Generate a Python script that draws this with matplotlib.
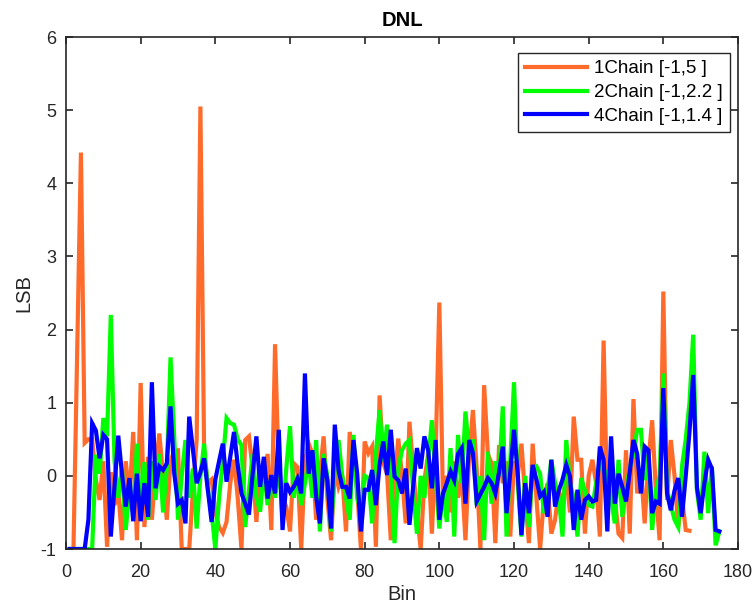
import matplotlib
matplotlib.use("Agg")
import matplotlib.pyplot as plt
import numpy as np

plt.rcParams['font.family'] = ['Liberation Sans', 'DejaVu Sans']
plt.rcParams['axes.unicode_minus'] = False

# ---- data ----
chain1 = [-1, -1, 1.7, 4.42, 0.45, 0.50, 0.50, -0.05, -0.33, 0.2,
          -0.97, 0.05, -0.4, -0.2, -0.88, 0.2, -0.3, 0.6, -0.88, 1.27,
          -0.70, 0.26, -0.60, 0.1, 0.58, 0.0, -0.60, 0.2, 0.35, 0.35,
          -1, -1, -1, -0.2, 0.5, 5.05, 0.3, -0.10, -0.05, -0.5,
          -0.70, -0.78, -0.63, -0.1, 0.22, -0.3, -1.0, 0.49, 0.54, 0.1,
          -0.63, 0.13, -0.2, 0.3, -0.74, 1.80, 0.03, -0.3, -0.42, -0.76,
          0.17, 0.12, -1.0, 0.2, 0.44, 0.3, -0.60, 0.0, 0.54, -0.3,
          -0.88, 0.1, -0.15, 0.0, -0.76, 0.60, 0.24, -0.2, -1.0, 0.47,
          0.31, 0.40, -0.97, 1.10, 0.17, 0.03, -0.88, -0.1, 0.51, 0.0,
          -0.65, 0.74, 0.1, -0.5, -1.0, -0.06, 0.3, -0.79, 0.3, 2.37,
          -0.4, 0.0, -0.5, 0.2, -0.3, 0.0, -0.88, 0.3, 0.90, 0.1,
          -1.0, 1.24, 0.3, 0.17, -0.92, 0.42, -0.1, 0.2, -0.83, 0.2,
          0.0, 0.44, -0.3, -0.92, 0.44, -0.3, -1.0, -0.3, -0.10, -0.79,
          -0.6, -0.2, -0.4, 0.0, -0.5, 0.81, 0.22, 0.22, -0.79, 0.0,
          0.22, -0.1, -0.83, 1.85, -0.5, 0.2, -0.3, -0.79, -0.85, 0.35,
          -0.79, 1.05, -0.24, 0.1, -0.65, 0.2, 0.76, -0.2, -0.88, 2.52,
          -0.33, 0.49, 0.0, -0.70, -0.3, -0.74, -0.75]

chain2 = [-1, -1, -1, -1, -1, -1, -1, 0.29, 0.03, 0.79,
          0.54, 2.20, 0.2, -0.3, 0.1, -0.74, -0.2, -0.5, 0.44, -0.56,
          0.19, -0.6, 0.2, -0.33, 0.3, -0.5, 0.1, 1.62, 0.5, -0.6,
          0.0, 0.49, -0.3, 0.1, -0.72, 0.0, 0.44, -0.19, -0.5, -1.0,
          -0.3, 0.2, 0.79, 0.72, 0.70, 0.5, 0.42, -0.70, -0.2, 0.3,
          -0.3, -0.49, 0.1, -0.4, 0.0, -0.3, 0.2, -0.6, 0.1, 0.68,
          -0.3, 0.0, -0.4, -0.1, 0.2, -0.3, 0.49, -0.76, 0.3, 0.0,
          -0.76, 0.1, 0.49, 0.0, -0.3, -0.6, 0.56, -0.3, -0.5, 0.0,
          -0.03, -0.65, 0.3, 0.90, 0.2, 0.70, 0.0, -0.92, 0.1, 0.35,
          0.44, 0.49, -0.2, -0.79, 0.0, -0.3, 0.2, 0.76, 0.0, -0.72,
          -0.2, -0.63, 0.38, -0.83, 0.56, -0.1, 0.88, 0.3, 0.5, -0.4,
          0.0, -0.88, 0.33, -0.38, 0.2, 0.0, 0.95, -0.83, 0.2, 1.28,
          -0.1, -0.83, 0.0, -0.7, 0.1, 0.13, 0.03, -0.51, -0.2, 0.22,
          -0.1, -0.3, -0.83, 0.49, -0.1, -0.3, -0.83, -0.03, -0.2, -0.4,
          -0.42, -0.1, 0.2, 0.1, 0.0, -0.3, -0.65, 0.22, -0.56, -0.2,
          0.1, 0.3, 0.63, 0.63, -0.06, 0.3, -0.74, -0.2, 0.0, 1.40,
          -0.2, -0.4, -0.6, -0.7, 0.13, 0.5, 1.0, 1.93, -0.2, -0.6,
          0.33, -0.51, 0.13, -0.95, -0.76]

chain4 = [-1, -1, -1, -1, -1, -0.60, 0.72, 0.62, 0.24, 0.56,
          0.50, -0.83, -0.15, 0.55, 0.02, -0.42, -0.03, -0.62, 0.03, -0.62,
          -0.10, -0.56, 1.28, -0.17, 0.13, 0.08, 0.17, 0.95, 0.03, -0.38,
          -0.33, -0.65, 0.81, 0.35, -0.10, 0.05, 0.24, -0.19, -0.63, -0.05,
          0.20, 0.44, -0.08, 0.26, 0.60, 0.15, -0.24, -0.38, -0.53, 0.03,
          0.54, -0.15, 0.26, -0.31, 0.01, -0.24, 0.63, -0.74, -0.10, -0.22,
          -0.15, -0.04, -0.24, 1.40, 0.03, 0.35, -0.28, -0.65, 0.24, -0.06,
          -0.72, 0.70, 0.08, -0.15, -0.15, -0.31, 0.49, 0.03, -0.76, -0.19,
          -0.19, 0.08, -0.40, 0.15, 0.47, 0.01, 0.63, -0.01, -0.06, -0.24,
          0.10, -0.67, -0.15, 0.38, 0.10, 0.54, 0.35, -0.17, 0.49, -0.60,
          -0.24, -0.10, 0.06, -0.06, 0.30, 0.38, -0.38, 0.49, 0.31, -0.35,
          -0.25, -0.15, -0.03, -0.10, -0.24, 0.05, 0.40, -0.51, 0.05, 0.63,
          0.03, -0.81, -0.10, -0.51, 0.15, -0.05, -0.28, -0.22, -0.56, 0.22,
          -0.42, -0.20, -0.05, 0.15, -0.01, -0.74, -0.19, -0.60, -0.33, -0.28,
          -0.35, -0.33, 0.40, 0.22, -0.76, 0.54, -0.38, 0.03, -0.15, -0.35,
          0.05, 0.49, 0.30, -0.24, 0.40, 0.35, -0.51, -0.35, -0.38, 1.20,
          -0.24, -0.47, -0.20, -0.03, -0.56, 0.0, 0.6, 1.38, -0.15, -0.51,
          -0.10, 0.22, 0.10, -0.74, -0.76]

labels = ['1Chain [-1,5 ]', '2Chain [-1,2.2 ]', '4Chain [-1,1.4 ]']
colors = ['#FF6B2B', '#00FF00', '#0000FF']
series = [chain1, chain2, chain4]

x_ticks = [0, 20, 40, 60, 80, 100, 120, 140, 160, 180]
y_ticks = [-1, 0, 1, 2, 3, 4, 5, 6]

fig = plt.figure(figsize=(7.54, 6.07), dpi=100)
ax = fig.add_axes([66/754, 58/607, (738-66)/754, (549-37)/607])

for ys, c, lab in zip(series, colors, labels):
    xs = np.arange(1, len(ys) + 1)
    ax.plot(xs, ys, color=c, linewidth=3.0, label=lab, solid_joinstyle='miter')

ax.set_xlim(0, 180)
ax.set_ylim(-1, 6)
ax.set_xticks(x_ticks)
ax.set_yticks(y_ticks)
ax.tick_params(direction='in', top=True, right=True, length=5, width=1.2,
               labelsize=13, colors='#262626')
ax.tick_params(axis='x', pad=11)
ax.tick_params(axis='y', pad=7)
for s in ax.spines.values():
    s.set_linewidth(1.2)
    s.set_color('#262626')

ax.set_title('DNL', fontsize=14.5, fontweight='bold', pad=8)
ax.set_xlabel('Bin', fontsize=14.5, color='#262626', labelpad=3)
ax.set_ylabel('LSB', fontsize=14.5, color='#262626', labelpad=5)

leg = ax.legend(loc='upper right', bbox_to_anchor=(0.988, 0.969), fontsize=13.5,
                fancybox=False, framealpha=1, edgecolor='#262626',
                handlelength=3.3, borderpad=0.4, labelspacing=0.35,
                handletextpad=0.35, borderaxespad=0.0)
leg.get_frame().set_linewidth(1.0)

fig.savefig('out.png', dpi=100)
